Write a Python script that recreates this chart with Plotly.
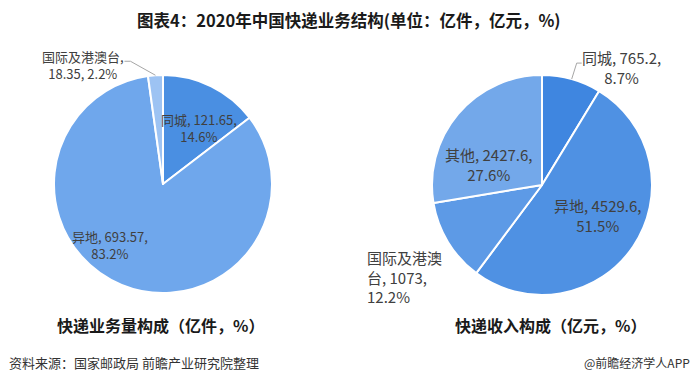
import math
import plotly.graph_objects as go

W, H = 698, 386

# ---------------- data ----------------
vol_labels = ["同城", "异地", "国际及港澳台"]
vol_values = [121.65, 693.57, 18.35]
vol_pcts = ["14.6%", "83.2%", "2.2%"]

rev_labels = ["同城", "异地", "国际及港澳台", "其他"]
rev_values = [765.2, 4529.6, 1073, 2427.6]
rev_pcts = ["8.7%", "51.5%", "12.2%", "27.6%"]

title_text = "图表4：2020年中国快递业务结构(单位：亿件，亿元，%)"
sub_left = "快递业务量构成（亿件，%）"
sub_right = "快递收入构成（亿元，%）"
source_text = "资料来源：国家邮政局 前瞻产业研究院整理"
brand_text = "@前瞻经济学人APP"

# ---------------- style ----------------
vol_colors = ["#4a8fe2", "#6fa7ec", "#9dc3f3"]
rev_colors = ["#3f86e0", "#4f91e3", "#5d9ae6", "#73a8ea"]
FONT = "Noto Sans CJK SC"
LABEL_COLOR = "#404040"

# pie geometry in pixels: centre x, centre y, radius
left_geo = (163, 184, 109)
right_geo = (542, 185, 110)

# per-slice label placement: radial fraction, dx, dy (px), xanchor, template, leader
left_place = [
    (0.61, 7, 4, "center", "{l}, {v},<br>{p}", None),
    (0.70, -24, -10, "center", "{l}, {v},<br>{p}", None),
    (1.12, -72, 3, "center", "{l},<br>{v}, {p}", ((-25, -14), (-31, -14))),
]
right_place = [
    (1.0, 50, -12, "center", "{l}, {v},<br>{p}", ((5, -16), (10, -16))),
    (0.575, 4, -5, "center", "{l}, {v},<br>{p}", None),
    (1.0, -83, 35, "left", "{l}, {v},<br>{p}", None),
    (0.485, -12, 14, "center", "{l}, {v},<br>{p}", None),
]


def px(x, y):
    return x / W, 1 - y / H


def domain(geo):
    cx, cy, r = geo
    return dict(x=[(cx - r) / W, (cx + r) / W], y=[1 - (cy + r) / H, 1 - (cy - r) / H])


def mid_angles(values):
    tot = sum(values)
    out, cum = [], 0.0
    for v in values:
        out.append((cum + v / 2) / tot * 360.0)
        cum += v
    return out


def polar(geo, ang, rf):
    cx, cy, r = geo
    a = math.radians(ang)
    return cx + rf * r * math.sin(a), cy - rf * r * math.cos(a)


fig = go.Figure()
for labels, values, colors, geo in [
    (vol_labels, vol_values, vol_colors, left_geo),
    (rev_labels, rev_values, rev_colors, right_geo),
]:
    fig.add_trace(go.Pie(
        labels=labels, values=values, sort=False, direction="clockwise",
        rotation=0, domain=domain(geo), textinfo="none", hoverinfo="label+value+percent",
        marker=dict(colors=colors, line=dict(color="white", width=2)),
        showlegend=False,
    ))

annotations = []
shapes = []


def add_labels(labels, values, pcts, geo, places, size, disp_labels=None):
    angs = mid_angles(values)
    for i, (lab, v, p) in enumerate(zip(labels, values, pcts)):
        rf, dx, dy, xa, tpl, leader = places[i]
        l = disp_labels[i] if disp_labels else lab
        txt = tpl.format(l=l, v=f"{v:g}", p=p)
        bx, by = polar(geo, angs[i], rf)
        x, y = px(bx + dx, by + dy)
        annotations.append(dict(
            x=x, y=y, xref="paper", yref="paper", text=txt, showarrow=False,
            xanchor=xa, yanchor="middle", align="left" if xa == "left" else "center",
            font=dict(family=FONT, size=size, color=LABEL_COLOR),
        ))
        if leader:
            ex, ey = polar(geo, angs[i], 1.0)
            (ax1, ay1), (ax2, ay2) = leader
            p0 = px(ex, ey)
            p1 = px(ex + ax1, ey + ay1)
            p2 = px(ex + ax2, ey + ay2)
            shapes.append(dict(
                type="path", xref="paper", yref="paper",
                path=f"M {p0[0]},{p0[1]} L {p1[0]},{p1[1]} L {p2[0]},{p2[1]}",
                line=dict(color="#a6a6a6", width=1),
            ))


add_labels(vol_labels, vol_values, vol_pcts, left_geo, left_place, 13)
rev_disp = ["同城", "异地", "国际及港澳<br>台", "其他"]
add_labels(rev_labels, rev_values, rev_pcts, right_geo, right_place, 15, rev_disp)

# titles and footer
x, y = px(349, 20)
annotations.append(dict(x=x, y=y, xref="paper", yref="paper", text=f"<b>{title_text}</b>",
                        showarrow=False, xanchor="center", yanchor="middle",
                        font=dict(family=FONT, size=16.5, color="#1a1a1a")))
for txt, cx in [(sub_left, 160), (sub_right, 550)]:
    x, y = px(cx, 325)
    annotations.append(dict(x=x, y=y, xref="paper", yref="paper", text=f"<b>{txt}</b>",
                            showarrow=False, xanchor="center", yanchor="middle",
                            font=dict(family=FONT, size=16, color="#1a1a1a")))
x, y = px(7, 362)
annotations.append(dict(x=x, y=y, xref="paper", yref="paper", text=source_text,
                        showarrow=False, xanchor="left", yanchor="middle",
                        font=dict(family=FONT, size=13, color="#333333")))
x, y = px(692, 362)
annotations.append(dict(x=x, y=y, xref="paper", yref="paper", text=brand_text,
                        showarrow=False, xanchor="right", yanchor="middle",
                        font=dict(family=FONT, size=12, color="#333333")))

fig.update_layout(
    width=W, height=H, margin=dict(l=0, r=0, t=0, b=0),
    paper_bgcolor="white", plot_bgcolor="white",
    annotations=annotations, shapes=shapes,
)

fig.write_html("out.html", config={"displayModeBar": False},
               post_script="document.body.style.margin='0';")
